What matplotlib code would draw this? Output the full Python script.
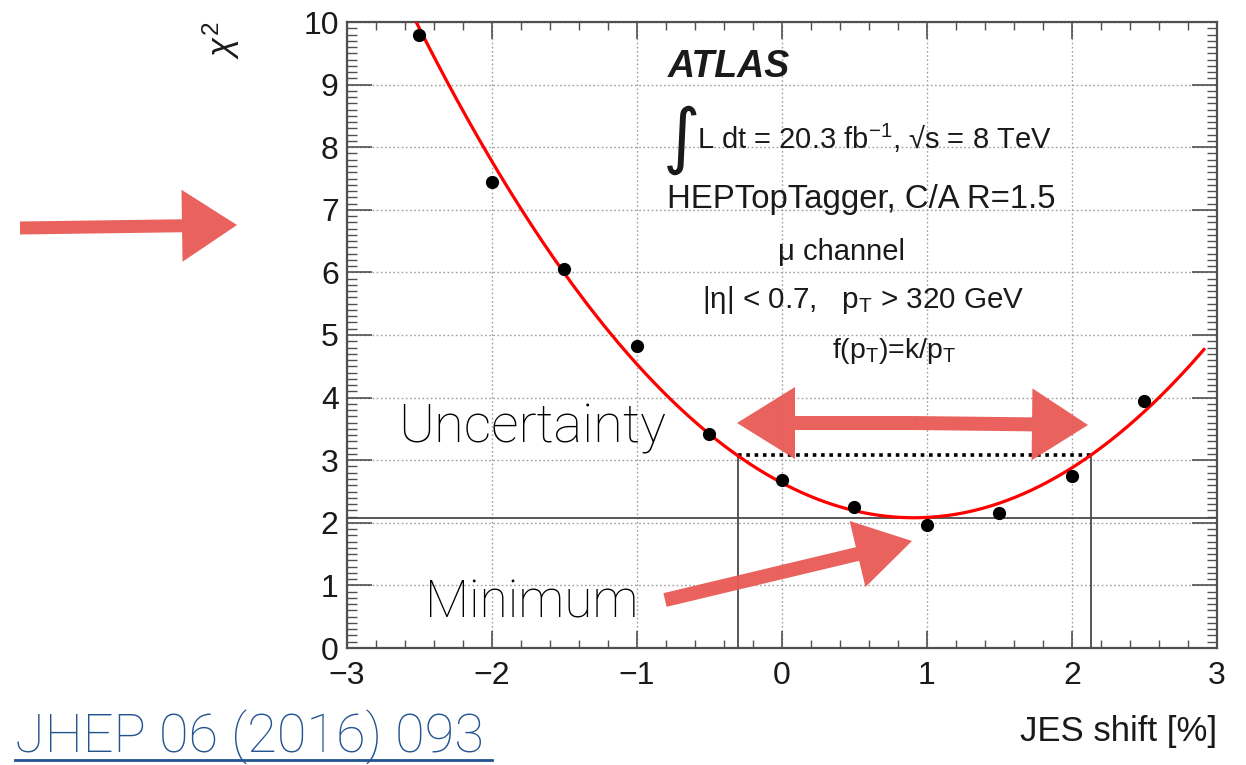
import numpy as np
import matplotlib
matplotlib.use("Agg")
import matplotlib.pyplot as plt
from matplotlib.patches import FancyArrow

# ---------------- data ----------------
jes_shift = [-2.5, -2.0, -1.5, -1.0, -0.5, 0.0, 0.5, 1.0, 1.5, 2.0, 2.5]
chi2 = [9.80, 7.45, 6.05, 4.82, 3.42, 2.68, 2.25, 1.97, 2.16, 2.74, 3.95]
fit_coeffs = [0.672, -1.223, 2.637]       # quadratic fit  a x^2 + b x + c
fit_range = [-3.0, 2.91]
chi2_min = 2.08
chi2_min_plus1 = 3.08
unc_lo, unc_hi = -0.305, 2.13
x_ticks = [-3, -2, -1, 0, 1, 2, 3]
y_ticks = [0, 1, 2, 3, 4, 5, 6, 7, 8, 9, 10]

plt.rcParams['font.family'] = ['Liberation Sans', 'DejaVu Sans']
plt.rcParams['mathtext.fontset'] = 'custom'
plt.rcParams['mathtext.rm'] = 'Liberation Sans'
plt.rcParams['mathtext.it'] = 'Liberation Sans:italic'
plt.rcParams['mathtext.bf'] = 'Liberation Sans:bold'

W, H = 1246, 765
fig = plt.figure(figsize=(W / 100, H / 100), dpi=100)
L, R, T, B = 347, 1217, 22, 648
ax = fig.add_axes([L / W, (H - B) / H, (R - L) / W, (B - T) / H])

ax.set_xlim(-3, 3)
ax.set_ylim(0, 10)
ax.set_xticks(x_ticks)
ax.set_yticks(y_ticks)
ax.set_xticklabels([str(v).replace('-', '\u2212') for v in x_ticks])
ax.set_xticks(np.arange(-3, 3.01, 0.2), minor=True)
ax.set_yticks(np.arange(0, 10.01, 0.1), minor=True)
ax.grid(True, which='major', color='#a0a0a0', ls=(0, (1.2, 1.8)), lw=1.0)
ax.set_axisbelow(True)

gcol = '#505050'
for s in ax.spines.values():
    s.set_color(gcol)
    s.set_linewidth(1.6)
ax.tick_params(which='both', direction='in', top=True, right=True, color=gcol,
               labelsize=23, labelcolor='#1a1a1a')
ax.tick_params(axis='x', which='major', length=12, width=1.2, pad=9)
ax.tick_params(axis='x', which='minor', length=6, width=1.0)
ax.tick_params(axis='y', which='major', length=18, width=1.2, pad=6)
ax.tick_params(axis='y', which='minor', length=7, width=1.0)

# fit curve
xs = np.linspace(fit_range[0], fit_range[1], 400)
ax.plot(xs, np.polyval(fit_coeffs, xs), color='#ff0000', lw=2.3, zorder=3, clip_on=True)
# data points
ax.plot(jes_shift, chi2, 'o', color='black', ms=8.5, zorder=4, clip_on=False)

# minimum / uncertainty lines
ax.axhline(chi2_min, color='#4a4a4a', lw=1.3, zorder=2)
ax.plot([unc_lo, unc_hi], [chi2_min_plus1, chi2_min_plus1], color='black', lw=2.6,
        ls=(0, (1.0, 1.3)), zorder=2)
ax.plot([unc_lo, unc_lo], [0, chi2_min_plus1], color='#4a4a4a', lw=1.3, zorder=2)
ax.plot([unc_hi, unc_hi], [0, chi2_min_plus1], color='#4a4a4a', lw=1.3, zorder=2)

# axis titles
ax.set_ylabel(r'$\chi^{2}$', fontsize=25, loc='top', labelpad=44, color='#1a1a1a')
ax.set_xlabel('JES shift [%]', fontsize=25, loc='right', labelpad=18, color='#1a1a1a')

# ---------------- overlay in pixel coordinates ----------------
ov = fig.add_axes([0, 0, 1, 1], zorder=10)
ov.set_xlim(0, W)
ov.set_ylim(H, 0)
ov.axis('off')
ov.patch.set_alpha(0)

tc = '#1a1a1a'
ov.text(668, 77, 'ATLAS', fontsize=27, fontweight='bold', fontstyle='italic',
        color=tc, ha='left', va='baseline')
ov.text(663, 160, '\u222b', fontsize=52, color=tc, ha='left', va='baseline',
        family=['DejaVu Sans'])
ov.text(697, 149, 'L dt = 20.3 fb$^{\\mathregular{-1}}$, \u221as = 8 TeV',
        fontsize=21, color=tc, ha='left', va='baseline')
ov.text(667, 208, 'HEPTopTagger, C/A R=1.5', fontsize=23.7, color=tc,
        ha='left', va='baseline')
ov.text(841, 260, '\u03bc channel', fontsize=21, color=tc, ha='center', va='baseline')
ov.text(702, 308, '|\u03b7| < 0.7,   p$_{\\mathregular{T}}$ > 320 GeV', fontsize=21.3,
        color=tc, ha='left', va='baseline')
ov.text(832, 358, 'f(p$_{\\mathregular{T}}$)=k/p$_{\\mathregular{T}}$', fontsize=20.5,
        color=tc, ha='left', va='baseline')

ann = ['Roboto', 'DejaVu Sans']
ov.text(398, 442, 'Uncertainty', fontsize=39, fontweight='light', family=ann,
        color='black', ha='left', va='baseline')
ov.text(425, 617, 'Minimum', fontsize=37, fontweight='light', family=ann,
        color='black', ha='left', va='baseline')
ov.text(15, 753, 'JHEP 06 (2016) 093', fontsize=39, fontweight='light', family=ann,
        color='#235391', ha='left', va='baseline')
ov.plot([15, 492], [760, 760], color='#235391', lw=2)

acol = '#e85a55'

def arrow(x0, y0, x1, y1, w, hw, hl):
    ov.add_patch(FancyArrow(x0, y0, x1 - x0, y1 - y0, width=w, head_width=hw,
                            head_length=hl, length_includes_head=True,
                            color=acol, alpha=0.95, lw=0))

arrow(20, 228, 237, 225, 13, 72, 55)
arrow(912, 423, 737, 423, 14, 72, 58)
arrow(912, 423, 1088, 425, 14, 72, 56)
arrow(665, 600, 912, 541, 14, 68, 56)

fig.savefig('out.png', dpi=100)
